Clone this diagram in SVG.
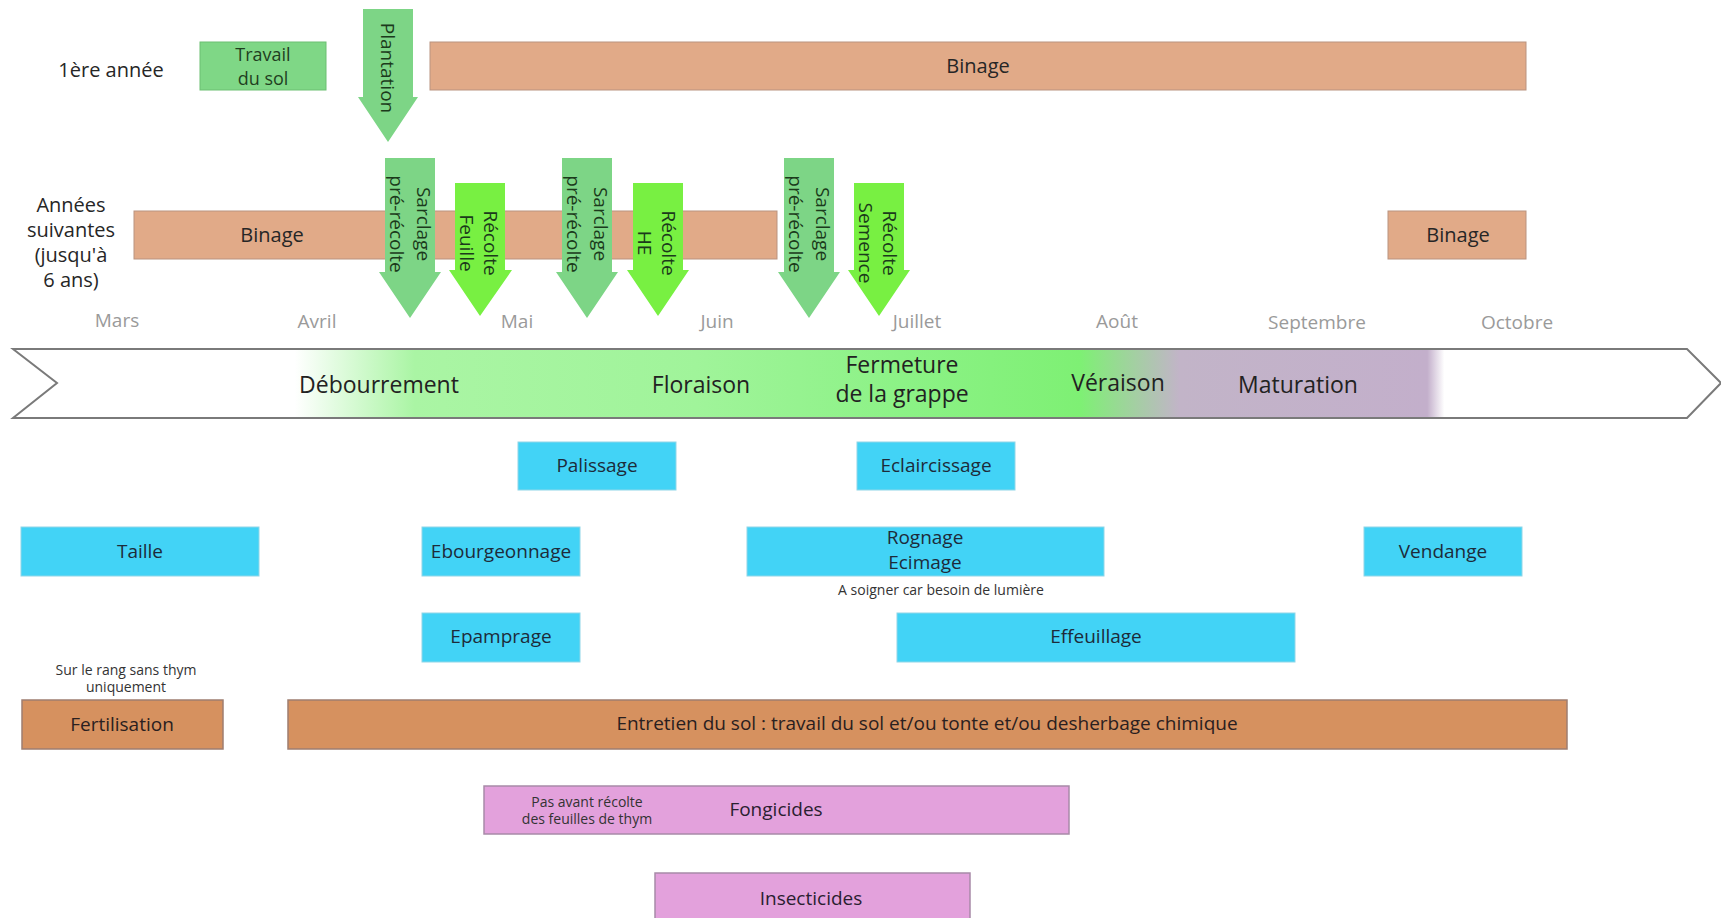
<svg xmlns="http://www.w3.org/2000/svg" width="1721" height="918" viewBox="0 0 1721 918">
<defs>
<style>
text{font-family:"Open Sans","Noto Sans","DejaVu Sans",sans-serif;fill:#262626;text-anchor:middle;dominant-baseline:central}
.lbl{font-size:20px}
.month{font-size:19px;fill:#9a9a9a}
.phase{font-size:23px;fill:#222}
.box{font-size:19px;fill:#1d2b3a}
.note{font-size:14px;fill:#333}
.arrt{font-size:19px;fill:#1b3a1b}
.green{fill:#7fd786;stroke:#6cbf73;stroke-width:1}
.brown{fill:#e1aa88;stroke:#b99380;stroke-width:1}
.blue{fill:#42d3f6;stroke:#8fd6e8;stroke-width:1}
.orange{fill:#d6915f;stroke:#9e7e70;stroke-width:1.5}
.pink{fill:#e3a1dc;stroke:#a88aa8;stroke-width:1.5}
.arrA{fill:#7dd586}
.arrB{fill:#78f042}
</style>
<linearGradient id="band" gradientUnits="userSpaceOnUse" x1="13" y1="0" x2="1721" y2="0">
<stop offset="0" stop-color="#ffffff"/>
<stop offset="0.165" stop-color="#ffffff"/>
<stop offset="0.235" stop-color="#aaf5a4"/>
<stop offset="0.40" stop-color="#a0f49a"/>
<stop offset="0.52" stop-color="#8cf286"/>
<stop offset="0.625" stop-color="#7ef074"/>
<stop offset="0.683" stop-color="#c2b4c8"/>
<stop offset="0.828" stop-color="#c3afcb"/>
<stop offset="0.838" stop-color="#ffffff"/>
<stop offset="1" stop-color="#ffffff"/>
</linearGradient>
</defs>
<rect width="1721" height="918" fill="#ffffff"/>

<g id="row-labels">
<text class="lbl" x="111" y="69">1ère année</text>
<text class="lbl" x="71" y="204">Années</text>
<text class="lbl" x="71" y="229">suivantes</text>
<text class="lbl" x="71" y="254">(jusqu'à</text>
<text class="lbl" x="71" y="279">6 ans)</text>
</g>

<g id="travail-du-sol">
<rect class="green" x="200" y="42" width="126" height="48"/>
<text class="lbl" x="263" y="54" style="font-size:18px;fill:#1f3f1f">Travail</text>
<text class="lbl" x="263" y="78" style="font-size:18px;fill:#1f3f1f">du sol</text>
</g>

<g id="binage-1">
<rect class="brown" x="430" y="42" width="1096" height="48"/>
<text class="lbl" x="978" y="65">Binage</text>
</g>

<g id="binage-2">
<rect class="brown" x="134" y="211" width="643" height="48"/>
<text class="lbl" x="272" y="234">Binage</text>
</g>

<g id="binage-3">
<rect class="brown" x="1388" y="211" width="138" height="48"/>
<text class="lbl" x="1458" y="234">Binage</text>
</g>

<g id="plantation">
<path class="arrA" d="M363,9 H413 V97 H418 L388,142 L358,97 H363 Z"/>
<text class="arrt" transform="translate(388,68) rotate(90)" x="0" y="0">Plantation</text>
</g>

<g id="sarclage-1">
<path class="arrA" d="M385,158 H435 V272 H441 L410,318 L379,272 H385 Z"/>
<text class="arrt" transform="translate(410,224) rotate(90)" x="0" y="-14">Sarclage</text>
<text class="arrt" transform="translate(410,224) rotate(90)" x="0" y="13">pré-récolte</text>
</g>

<g id="recolte-feuille">
<path class="arrB" d="M455,183 H505 V270 H512 L480,316 L449,270 H455 Z"/>
<text class="arrt" transform="translate(480,243) rotate(90)" x="0" y="-11">Récolte</text>
<text class="arrt" transform="translate(480,243) rotate(90)" x="0" y="13">Feuille</text>
</g>

<g id="sarclage-2">
<path class="arrA" d="M562,158 H612 V272 H618 L587,318 L556,272 H562 Z"/>
<text class="arrt" transform="translate(587,224) rotate(90)" x="0" y="-14">Sarclage</text>
<text class="arrt" transform="translate(587,224) rotate(90)" x="0" y="13">pré-récolte</text>
</g>

<g id="recolte-he">
<path class="arrB" d="M633,183 H683 V270 H689 L658,316 L627,270 H633 Z"/>
<text class="arrt" transform="translate(658,243) rotate(90)" x="0" y="-11">Récolte</text>
<text class="arrt" transform="translate(658,243) rotate(90)" x="0" y="13">HE</text>
</g>

<g id="sarclage-3">
<path class="arrA" d="M784,158 H834 V272 H840 L809,318 L778,272 H784 Z"/>
<text class="arrt" transform="translate(809,224) rotate(90)" x="0" y="-14">Sarclage</text>
<text class="arrt" transform="translate(809,224) rotate(90)" x="0" y="13">pré-récolte</text>
</g>

<g id="recolte-semence">
<path class="arrB" d="M854,183 H904 V270 H910 L879,316 L848,270 H854 Z"/>
<text class="arrt" transform="translate(879,243) rotate(90)" x="0" y="-11">Récolte</text>
<text class="arrt" transform="translate(879,243) rotate(90)" x="0" y="13">Semence</text>
</g>

<g id="months">
<text class="month" x="117" y="320">Mars</text>
<text class="month" x="317" y="321">Avril</text>
<text class="month" x="517" y="321">Mai</text>
<text class="month" x="717" y="321">Juin</text>
<text class="month" x="917" y="321">Juillet</text>
<text class="month" x="1117" y="321">Août</text>
<text class="month" x="1317" y="322">Septembre</text>
<text class="month" x="1517" y="322">Octobre</text>
</g>

<g id="phases">
<path d="M13,349 H1687 L1721,383 L1687,418 H13 L57,383 Z" fill="url(#band)" stroke="#7a7a7a" stroke-width="2"/>
<text class="phase" x="379" y="384">Débourrement</text>
<text class="phase" x="701" y="384">Floraison</text>
<text class="phase" x="902" y="364">Fermeture</text>
<text class="phase" x="902" y="393">de la grappe</text>
<text class="phase" x="1118" y="382">Véraison</text>
<text class="phase" x="1298" y="384">Maturation</text>
</g>

<g id="palissage">
<rect class="blue" x="518" y="442" width="158" height="48"/>
<text class="box" x="597" y="465">Palissage</text>
</g>
<g id="eclaircissage">
<rect class="blue" x="857" y="442" width="158" height="48"/>
<text class="box" x="936" y="465">Eclaircissage</text>
</g>
<g id="taille">
<rect class="blue" x="21" y="527" width="238" height="49"/>
<text class="box" x="140" y="551">Taille</text>
</g>
<g id="ebourgeonnage">
<rect class="blue" x="422" y="527" width="158" height="49"/>
<text class="box" x="501" y="551">Ebourgeonnage</text>
</g>
<g id="rognage">
<rect class="blue" x="747" y="527" width="357" height="49"/>
<text class="box" x="925" y="537">Rognage</text>
<text class="box" x="925" y="562">Ecimage</text>
<text class="note" x="941" y="589">A soigner car besoin de lumière</text>
</g>
<g id="vendange">
<rect class="blue" x="1364" y="527" width="158" height="49"/>
<text class="box" x="1443" y="551">Vendange</text>
</g>
<g id="epamprage">
<rect class="blue" x="422" y="613" width="158" height="49"/>
<text class="box" x="501" y="636">Epamprage</text>
</g>
<g id="effeuillage">
<rect class="blue" x="897" y="613" width="398" height="49"/>
<text class="box" x="1096" y="636">Effeuillage</text>
</g>

<g id="fertilisation">
<text class="note" x="126" y="669">Sur le rang sans thym</text>
<text class="note" x="126" y="686">uniquement</text>
<rect class="orange" x="22" y="700" width="201" height="49"/>
<text class="box" x="122" y="724" style="fill:#2a2020">Fertilisation</text>
</g>
<g id="entretien">
<rect class="orange" x="288" y="700" width="1279" height="49"/>
<text class="box" x="927" y="723" style="fill:#2a2020">Entretien du sol : travail du sol et/ou tonte et/ou desherbage chimique</text>
</g>

<g id="fongicides">
<rect class="pink" x="484" y="786" width="585" height="48"/>
<text class="note" x="587" y="801">Pas avant récolte</text>
<text class="note" x="587" y="818">des feuilles de thym</text>
<text class="box" x="776" y="809" style="fill:#2a2030">Fongicides</text>
</g>
<g id="insecticides">
<rect class="pink" x="655" y="873" width="315" height="50"/>
<text class="box" x="811" y="898" style="fill:#2a2030">Insecticides</text>
</g>

<g id="connectors"></g>
</svg>
